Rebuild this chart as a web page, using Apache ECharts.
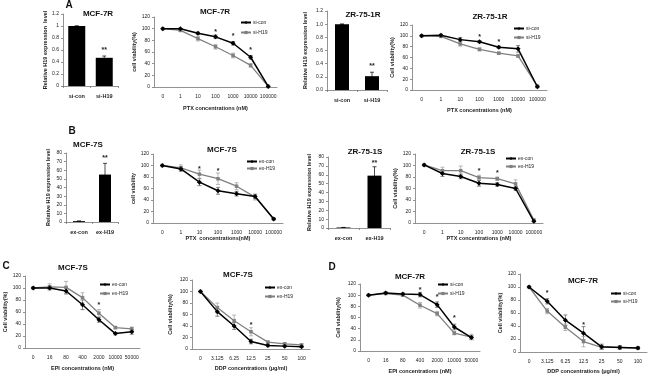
<html>
<head>
<meta charset="utf-8">
<script src="https://cdn.jsdelivr.net/npm/echarts@6/dist/echarts.min.js"></script>
<style>
  body { margin: 0; background: #fff; }
  #main { width: 650px; height: 377px; }
</style>
</head>
<body>
<div id="main"></div>
<script>
// ---- data ----
var ptxCats = ['0', '1', '10', '100', '1000', '10000', '100000'];
var epiCats = ['0', '16', '80', '400', '2000', '10000', '50000'];
var ddpCats = ['0', '3.125', '6.25', '12.5', '25', '50', '100'];

// A: MCF-7R / ZR-75-1R (si-con vs si-H19)
var aBar1Cats = ['si-con', 'si-H19'];
var aBar1Vals = [1.0, 0.47];
var aBar1Err = [0, 0.03];
var aLine1Con = [100, 100, 92, 86, 75, 51, 1];
var aLine1ConErr = [0, 1, 2, 3, 3, 3, 1];
var aLine1H19 = [100, 97, 83, 69, 54, 37, 1];
var aLine1H19Err = [0, 2, 4, 4, 4, 3, 1];
var aLine1Stars = [[3, 95], [4, 87], [5, 63]];

var aBar2Cats = ['si-con', 'si-H19'];
var aBar2Vals = [1.0, 0.21];
var aBar2Err = [0, 0.06];
var aLine2Con = [100, 101, 93, 89, 79, 76, 6];
var aLine2ConErr = [0, 2, 4, 2, 2, 6, 2];
var aLine2H19 = [100, 99, 85, 75, 68, 63, 7];
var aLine2H19Err = [0, 2, 4, 3, 2, 3, 2];
var aLine2Stars = [[3, 97], [4, 88]];

// B: MCF-7S / ZR-75-1S (ex-con vs ex-H19)
var bBar1Cats = ['ex-con', 'ex-H19'];
var bBar1Vals = [1, 55];
var bBar1Err = [0, 13];
var bLine1Con = [100, 94, 71, 56, 51, 46, 7];
var bLine1ConErr = [0, 4, 6, 6, 4, 4, 1];
var bLine1H19 = [100, 96, 85, 77, 64, 45, 7];
var bLine1H19Err = [0, 5, 7, 10, 6, 5, 1];
var bLine1Stars = [[2, 94], [3, 90]];

var bBar2Cats = ['ex-con', 'ex-H19'];
var bBar2Vals = [0.6, 59];
var bBar2Err = [0, 10];
var bLine2Con = [101, 86, 81, 69, 67, 60, 3];
var bLine2ConErr = [0, 5, 4, 5, 3, 3, 1];
var bLine2H19 = [101, 91, 91, 79, 77, 68, 5];
var bLine2H19Err = [0, 6, 8, 4, 3, 7, 2];
var bLine2Stars = [[3, 91], [4, 87]];

// C: MCF-7S EPI / DDP
var cLine1Con = [100, 100, 95, 72, 47, 24, 27];
var cLine1ConErr = [0, 3, 5, 8, 4, 2, 4];
var cLine1H19 = [100, 102, 101, 84, 58, 34, 32];
var cLine1H19Err = [0, 5, 10, 8, 6, 2, 3];
var cLine1Stars = [[4, 71]];
var cLine2Con = [100, 65, 40, 13, 6, 5, 4];
var cLine2ConErr = [0, 8, 6, 4, 2, 1, 1];
var cLine2H19 = [100, 72, 49, 30, 12, 9, 7];
var cLine2H19Err = [0, 8, 10, 7, 2, 2, 2];
var cLine2Stars = [[3, 42]];

// D: MCF-7R EPI / DDP
var dLine1Con = [100, 104, 102, 101, 83, 43, 24];
var dLine1ConErr = [0, 2, 2, 4, 5, 5, 3];
var dLine1H19 = [100, 103, 100, 82, 67, 32, 25];
var dLine1H19Err = [0, 1, 2, 5, 4, 3, 5];
var dLine1Stars = [[3, 110], [4, 97], [5, 59]];
var dLine2Con = [100, 78, 49, 29, 8, 7, 6];
var dLine2ConErr = [0, 4, 8, 10, 4, 3, 2];
var dLine2H19 = [100, 63, 38, 16, 7, 7, 6];
var dLine2H19Err = [0, 4, 5, 8, 3, 2, 2];
var dLine2Stars = [[1, 91], [3, 41]];

// ---- building ----
var FONT = 'Liberation Sans, Arial, sans-serif';
var grids = [], xAxes = [], yAxes = [], series = [], legends = [], texts = [];

function errSeries(k, vals, errs, color) {
    return {
        type: 'custom', xAxisIndex: k, yAxisIndex: k, silent: true, z: 1,
        data: vals.map(function (v, i) { return [i, v - errs[i], v + errs[i]]; }),
        renderItem: function (params, api) {
            var lo = api.coord([api.value(0), api.value(1)]);
            var hi = api.coord([api.value(0), api.value(2)]);
            var st = { stroke: color, lineWidth: 0.7 };
            return {
                type: 'group', children: [
                    { type: 'line', shape: { x1: lo[0], y1: lo[1], x2: hi[0], y2: hi[1] }, style: st },
                    { type: 'line', shape: { x1: hi[0] - 2, y1: hi[1], x2: hi[0] + 2, y2: hi[1] }, style: st },
                    { type: 'line', shape: { x1: lo[0] - 2, y1: lo[1], x2: lo[0] + 2, y2: lo[1] }, style: st }
                ]
            };
        }
    };
}

// asterisks drawn as text at a data position
function starSeries(k, pts, txt) {
    return {
        type: 'custom', xAxisIndex: k, yAxisIndex: k, silent: true, z: 5,
        data: pts,
        renderItem: function (params, api) {
            var c = api.coord([api.value(0), api.value(1)]);
            return {
                type: 'text', x: c[0], y: c[1],
                style: { text: txt, font: 'bold 7px ' + FONT, fill: '#222', align: 'center', verticalAlign: 'middle' }
            };
        }
    };
}

function axisCommon() {
    return {
        axisLine: { show: true, lineStyle: { color: '#777', width: 0.8 } },
        axisTick: { show: true, length: 2, lineStyle: { color: '#777', width: 0.8 } },
        splitLine: { show: false },
        nameTextStyle: { fontSize: 5.5, fontWeight: 'bold', color: '#222', fontFamily: FONT }
    };
}

function addTitle(x, y, text, size) {
    texts.push({
        type: 'text', x: x, y: y,
        style: { text: text, font: 'bold ' + (size || 8) + 'px ' + FONT, fill: '#111', align: 'center', verticalAlign: 'middle' }
    });
}

function addAxes(k, p, cats, yMax, yInt, fmt) {
    grids.push({ left: p.g[0], top: p.g[1], width: p.g[2], height: p.g[3] });
    var xa = axisCommon();
    Object.assign(xa, {
        type: 'category', gridIndex: k, data: cats,
        name: p.xName || '', nameLocation: 'middle', nameGap: p.xGap || 18,
        axisLabel: { interval: 0, fontSize: p.xFont || 5, margin: 7, color: '#222', fontFamily: FONT, fontWeight: p.xBold ? 'bold' : 'normal' }
    });
    xa.axisTick.show = !!p.xTick;
    xAxes.push(xa);
    var ya = axisCommon();
    Object.assign(ya, {
        type: 'value', gridIndex: k, min: 0, max: yMax, interval: yInt,
        name: p.yName, nameLocation: 'middle', nameRotate: 90, nameGap: p.yGap,
        axisLabel: { fontSize: 5, margin: 4, color: '#222', fontFamily: FONT, formatter: fmt }
    });
    yAxes.push(ya);
}

function addLinePanel(p) {
    var k = grids.length;
    addAxes(k, p, p.cats, 120, 20);
    var names = p.names;
    series.push(errSeries(k, p.con, p.conErr, '#555'));
    series.push(errSeries(k, p.h19, p.h19Err, '#999'));
    series.push({
        type: 'line', name: names[0], xAxisIndex: k, yAxisIndex: k, data: p.con, z: 3,
        symbol: 'diamond', symbolSize: 5, color: '#000', lineStyle: { width: 1.5, color: '#000' }
    });
    series.push({
        type: 'line', name: names[1], xAxisIndex: k, yAxisIndex: k, data: p.h19, z: 2,
        symbol: 'rect', symbolSize: 3.5, color: '#808080', lineStyle: { width: 1.3, color: '#808080' }
    });
    series.push(starSeries(k, p.stars, '*'));
    legends.push({
        data: names, orient: 'vertical', left: p.leg[0], top: p.leg[1], itemGap: p.leg[2],
        itemWidth: 10, itemHeight: 4, padding: 0, selectedMode: false,
        textStyle: { fontSize: 5, color: '#222', fontFamily: FONT, padding: [0, 0, 0, -3] }
    });
    addTitle(p.title[0], p.title[1], p.title[2]);
}

function addBarPanel(p) {
    var k = grids.length;
    p.xBold = true; p.xFont = 5.5; p.xTick = true;
    addAxes(k, p, p.cats, p.yMax, p.yInt, p.fmt);
    series.push({
        type: 'bar', xAxisIndex: k, yAxisIndex: k, data: p.vals, barWidth: p.bw,
        itemStyle: { color: '#000' }, silent: true
    });
    series.push(errSeries(k, p.vals, p.err, '#000'));
    series.push(starSeries(k, p.stars, '**'));
    addTitle(p.title[0], p.title[1], p.title[2]);
}

// A
addBarPanel({ g: [63, 14, 55, 72], cats: aBar1Cats, vals: aBar1Vals, err: aBar1Err, yMax: 1.2, yInt: 0.2,
    fmt: function (v) { return String(Math.round(v * 10) / 10); }, bw: 17,
    stars: [[1, 0.6]], yName: 'Relative H19 expression  level', yGap: 13, title: [98, 14, 'MCF-7R'] });
addLinePanel({ g: [154, 17, 123, 70], cats: ptxCats, names: ['si-con', 'si-H19'],
    con: aLine1Con, conErr: aLine1ConErr, h19: aLine1H19, h19Err: aLine1H19Err, stars: aLine1Stars,
    yName: 'cell viability(%)', yGap: 16, xName: 'PTX concentrations (nM)', xGap: 18,
    leg: [240, 20, 5], title: [215, 12, 'MCF-7R'] });
addBarPanel({ g: [327, 11, 60, 79], cats: aBar2Cats, vals: aBar2Vals, err: aBar2Err, yMax: 1.2, yInt: 0.2,
    fmt: function (v) { return v.toFixed(1); }, bw: 14,
    stars: [[1, 0.36]], yName: 'Relative H19 expression level', yGap: 19, title: [363, 15, 'ZR-75-1R'] });
addLinePanel({ g: [412, 25, 135, 65], cats: ptxCats, names: ['si-con', 'si-H19'],
    con: aLine2Con, conErr: aLine2ConErr, h19: aLine2H19, h19Err: aLine2H19Err, stars: aLine2Stars,
    yName: 'Cell viability(%)', yGap: 12, xName: 'PTX concentrations (nM)', xGap: 17,
    leg: [513, 26, 4], title: [490, 17, 'ZR-75-1R'] });

// B
addBarPanel({ g: [66, 153, 52, 69], cats: bBar1Cats, vals: bBar1Vals, err: bBar1Err, yMax: 80, yInt: 10,
    bw: 12, stars: [[1, 74]], yName: 'Relative H19 expression level', yGap: 15, title: [88, 145, 'MCF-7S'] });
addLinePanel({ g: [153, 154, 130, 69], cats: ptxCats, names: ['ex-con', 'ex-H19'],
    con: bLine1Con, conErr: bLine1ConErr, h19: bLine1H19, h19Err: bLine1H19Err, stars: bLine1Stars,
    yName: 'cell viability', yGap: 13, xName: 'PTX  concentrations(nM)', xGap: 12,
    leg: [246, 159, 2], title: [222, 150, 'MCF-7S'] });
addBarPanel({ g: [328, 157, 62, 71], cats: bBar2Cats, vals: bBar2Vals, err: bBar2Err, yMax: 80, yInt: 10,
    bw: 14, stars: [[1, 73]], yName: 'Relative H19 expression level', yGap: 16, title: [365, 152, 'ZR-75-1S'] });
addLinePanel({ g: [415, 154, 128, 69], cats: ptxCats, names: ['ex-con', 'ex-H19'],
    con: bLine2Con, conErr: bLine2ConErr, h19: bLine2H19, h19Err: bLine2H19Err, stars: bLine2Stars,
    yName: 'Cell viability(%)', yGap: 13, xName: 'PTX concentrations (nM)', xGap: 12,
    leg: [505, 156, 3], title: [478, 152, 'ZR-75-1S'] });

// C
addLinePanel({ g: [25, 276, 115, 72], cats: epiCats, names: ['ex-con', 'ex-H19'],
    con: cLine1Con, conErr: cLine1ConErr, h19: cLine1H19, h19Err: cLine1H19Err, stars: cLine1Stars,
    yName: 'Cell viability(%)', yGap: 16, xName: 'EPI concentrations (nM)', xGap: 17,
    leg: [99, 282, 4], title: [73, 268, 'MCF-7S'] });
addLinePanel({ g: [192, 280, 118, 69], cats: ddpCats, names: ['ex-con', 'ex-H19'],
    con: cLine2Con, conErr: cLine2ConErr, h19: cLine2H19, h19Err: cLine2H19Err, stars: cLine2Stars,
    yName: 'Cell viability(%)', yGap: 19, xName: 'DDP concentrations (μg/ml)', xGap: 16,
    leg: [264, 285, 4], title: [238, 275, 'MCF-7S'] });

// D
addLinePanel({ g: [360, 284, 120, 67], cats: epiCats, names: ['si-con', 'si-H19'],
    con: dLine1Con, conErr: dLine1ConErr, h19: dLine1H19, h19Err: dLine1H19Err, stars: dLine1Stars,
    yName: 'Cell viability(%)', yGap: 19, xName: 'EPI concentrations (nM)', xGap: 17,
    leg: [437, 282, 4], title: [410, 277, 'MCF-7R'] });
addLinePanel({ g: [520, 274, 127, 78], cats: ddpCats, names: ['si-con', 'si-H19'],
    con: dLine2Con, conErr: dLine2ConErr, h19: dLine2H19, h19Err: dLine2H19Err, stars: dLine2Stars,
    yName: 'Cell viability(%)', yGap: 14, xName: 'DDP concentrations (μg/ml)', xGap: 16,
    leg: [610, 291, 3], title: [583, 281, 'MCF-7R'] });

// panel letters
addTitle(69, 5, 'A', 10);
addTitle(72, 131, 'B', 10);
addTitle(6, 266, 'C', 10);
addTitle(332, 267, 'D', 10);

var chart = echarts.init(document.getElementById('main'));
chart.setOption({
    animation: false,
    backgroundColor: '#fff',
    grid: grids,
    xAxis: xAxes,
    yAxis: yAxes,
    legend: legends,
    series: series,
    graphic: texts
});
</script>
</body>
</html>
